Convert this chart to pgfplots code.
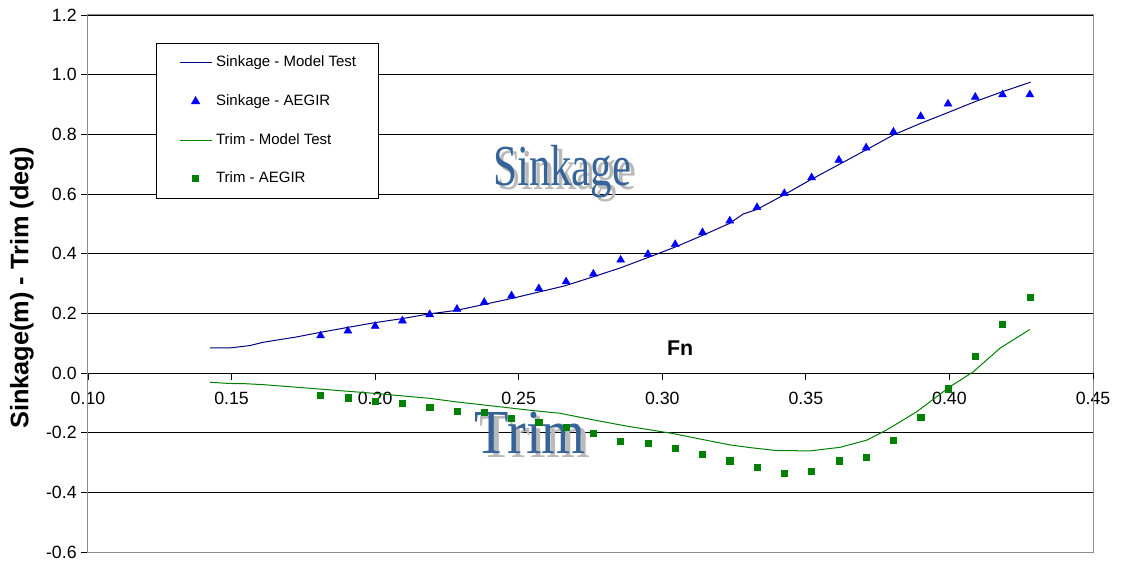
\documentclass[border=0pt]{standalone}
\usepackage{fontspec}
\setmainfont{Liberation Sans}
\newfontfamily\serifwa{Liberation Serif}
\usepackage{graphicx}
\usepackage{pgfplots}
\pgfplotsset{compat=1.18}
\usetikzlibrary{calc}
\definecolor{navyline}{RGB}{0,0,128}
\definecolor{exgreen}{RGB}{0,128,0}
\definecolor{wablue}{RGB}{54,100,152}
\definecolor{wagray}{RGB}{185,185,185}
\definecolor{framegray}{RGB}{140,140,140}

\pgfplotstableread{
x y
0.1425 0.084
0.1494 0.084
0.1564 0.092
0.161 0.103
0.1727 0.121
0.1808 0.136
0.190 0.152
0.1994 0.168
0.2092 0.182
0.2188 0.198
0.2284 0.210
0.2476 0.250
0.266 0.292
0.2758 0.322
0.2853 0.352
0.295 0.387
0.3047 0.423
0.3142 0.462
0.3233 0.501
0.3282 0.533
0.3329 0.548
0.3424 0.597
0.3515 0.647
0.3612 0.697
0.371 0.748
0.3805 0.798
0.390 0.837
0.3995 0.873
0.409 0.910
0.4185 0.943
0.4283 0.975
}\sinkmodel

\pgfplotstableread{
x y
0.181 0.125
0.1905 0.141
0.200 0.157
0.2095 0.175
0.219 0.196
0.2285 0.214
0.238 0.237
0.2475 0.259
0.257 0.283
0.2665 0.306
0.276 0.332
0.2855 0.379
0.295 0.398
0.3045 0.431
0.314 0.471
0.3235 0.510
0.333 0.555
0.3425 0.602
0.352 0.655
0.3615 0.714
0.371 0.755
0.3805 0.808
0.390 0.860
0.3995 0.902
0.409 0.925
0.4185 0.933
0.428 0.933
}\sinkaegir

\pgfplotstableread{
x y
0.1425 -0.031
0.149 -0.035
0.155 -0.036
0.161 -0.039
0.181 -0.054
0.1994 -0.068
0.219 -0.085
0.2284 -0.097
0.2377 -0.107
0.255 -0.126
0.2644 -0.135
0.2748 -0.155
0.2876 -0.178
0.3038 -0.203
0.313 -0.221
0.3236 -0.241
0.3305 -0.250
0.3398 -0.260
0.3515 -0.261
0.362 -0.249
0.3712 -0.225
0.3781 -0.191
0.3886 -0.130
0.4002 -0.046
0.4083 0.004
0.4176 0.083
0.428 0.146
}\trimmodel

\pgfplotstableread{
x y
0.181 -0.076
0.1905 -0.083
0.200 -0.094
0.2095 -0.102
0.219 -0.116
0.2285 -0.127
0.238 -0.132
0.2475 -0.152
0.257 -0.166
0.2665 -0.182
0.276 -0.202
0.2855 -0.228
0.295 -0.236
0.3045 -0.252
0.314 -0.272
0.3235 -0.294
0.333 -0.317
0.3425 -0.336
0.352 -0.329
0.3615 -0.294
0.371 -0.283
0.3805 -0.226
0.390 -0.149
0.3995 -0.053
0.409 0.055
0.4185 0.163
0.428 0.255
}\trimaegir

\begin{document}
\begin{tikzpicture}
\begin{axis}[
  scale only axis, width=753.75pt, height=402.75pt,
  xmin=0.10, xmax=0.45, ymin=-0.6, ymax=1.2,
  axis x line*=middle, axis y line*=left,
  axis line style={-, black, line width=0.75pt},
  hide obscured x ticks=false, hide obscured y ticks=false,
  xtick={0.10,0.15,0.20,0.25,0.30,0.35,0.40,0.45},
  ytick={-0.6,-0.4,-0.2,0,0.2,0.4,0.6,0.8,1.0,1.2},
  minor tick num=0,
  tick align=outside,
  major tick length=5pt,
  tick style={black, line width=0.6pt},
  /pgf/number format/assume math mode=true,
  xticklabel style={/pgf/number format/.cd, fixed, fixed zerofill, precision=2, /tikz/.cd, yshift=-6pt},
  yticklabel style={/pgf/number format/.cd, fixed, fixed zerofill, precision=1},
  tick label style={font=\fontsize{13.3}{15}\selectfont},
  ymajorgrids,
  grid style={black, line width=0.6pt},
  ylabel={Sinkage(m) - Trim (deg)},
  ylabel style={at={(axis description cs:-0.0657,0.4916)}, anchor=center, font=\bfseries\fontsize{19}{21}\selectfont},
  legend style={at={(0.0677,0.9479)}, anchor=north west, draw=black, line width=0.6pt,
    inner xsep=17pt, inner ysep=9pt, row sep=18pt, column sep=3pt,
    font=\fontsize{11.25}{13}\selectfont,
    nodes={inner sep=0pt, text height=8.5pt, text depth=2.5pt}},
  legend cell align=left,
  legend image code/.code={\draw[mark repeat=2,mark phase=2,#1] plot coordinates {(0pt,0pt) (12pt,0pt) (24pt,0pt)};},
  clip=false,
]
\draw[framegray, line width=0.75pt] (rel axis cs:0,0) rectangle (rel axis cs:1,1);
\pgfplotsinvokeforeach{0.10,0.15,0.20,0.25,0.30,0.35,0.40,0.45}{
  \draw[black, line width=0.6pt] (axis cs:#1,0) -- ++(0pt,-4.5pt);
}
\addplot[navyline, line width=0.75pt, no marks] table[x=x,y=y] {\sinkmodel};
\addlegendentry{Sinkage - Model Test}
\addplot[only marks, mark=triangle*, mark size=3.4pt, color=blue] table[x=x,y=y] {\sinkaegir};
\addlegendentry{Sinkage - AEGIR}
\addplot[exgreen, line width=0.75pt, no marks] table[x=x,y=y] {\trimmodel};
\addlegendentry{Trim - Model Test}
\addplot[only marks, mark=square*, mark size=2.3pt, color=exgreen] table[x=x,y=y] {\trimaegir};
\addlegendentry{Trim - AEGIR}
\node[font=\bfseries\fontsize{16}{18}\selectfont] at (axis cs:0.3062,0.084) {Fn};
\node[anchor=base, text=wagray, font=\serifwa\fontsize{43.5}{45}\selectfont] at ($(axis cs:0.2652,0.627)+(3.5pt,-3pt)$) {\scalebox{0.74}[1]{Sinkage}};
\node[anchor=base, text=wablue, font=\serifwa\fontsize{43.5}{45}\selectfont] at (axis cs:0.2652,0.627) {\scalebox{0.74}[1]{Sinkage}};
\node[anchor=base, text=wagray, font=\serifwa\fontsize{47}{49}\selectfont] at ($(axis cs:0.254,-0.2715)+(3.5pt,-3pt)$) {\scalebox{0.9}[1]{Trim}};
\node[anchor=base, text=wablue, font=\serifwa\fontsize{47}{49}\selectfont] at (axis cs:0.254,-0.2715) {\scalebox{0.9}[1]{Trim}};
\end{axis}
\pgfresetboundingbox
\path ($(current axis.south west)+(-66pt,-6.75pt)$) rectangle ($(current axis.north east)+(21pt,11.25pt)$);
\end{tikzpicture}
\end{document}
